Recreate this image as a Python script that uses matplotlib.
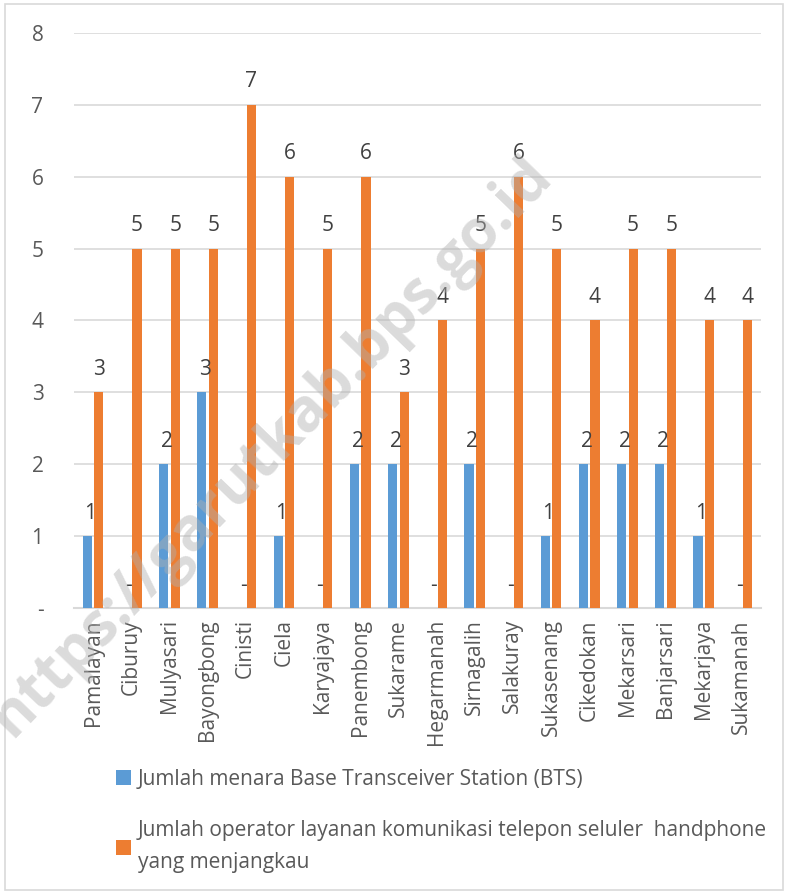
import matplotlib
matplotlib.use('Agg')
from matplotlib import pyplot as plt
from matplotlib.patches import Rectangle
import numpy as np

desa = ['Pamalayan', 'Ciburuy', 'Mulyasari', 'Bayongbong', 'Cinisti', 'Ciela',
        'Karyajaya', 'Panembong', 'Sukarame', 'Hegarmanah', 'Sirnagalih',
        'Salakuray', 'Sukasenang', 'Cikedokan', 'Mekarsari', 'Banjarsari',
        'Mekarjaya', 'Sukamanah']
bts = [1, 0, 2, 3, 0, 1, 0, 2, 2, 0, 2, 0, 1, 2, 2, 2, 1, 0]
operator = [3, 5, 5, 5, 7, 6, 5, 6, 3, 4, 5, 6, 5, 4, 5, 5, 4, 4]
yticks = [0, 1, 2, 3, 4, 5, 6, 7, 8]
ytick_labels = ['-', '1', '2', '3', '4', '5', '6', '7', '8']
label_bts = 'Jumlah menara Base Transceiver Station (BTS)'
label_op = 'Jumlah operator layanan komunikasi telepon seluler  handphone\nyang menjangkau'

blue = '#5B9BD5'
orange = '#ED7D31'
grey_txt = '#595959'

plt.rcParams['font.family'] = ['Open Sans', 'DejaVu Sans']

fig = plt.figure(figsize=(7.88, 8.94), dpi=100)
fig.patches.append(Rectangle((0.006, 0.004), 0.988, 0.992, transform=fig.transFigure,
                             fill=False, edgecolor='#D9D9D9', linewidth=1.2))
ax = fig.add_axes([0.0939, 0.3199, 0.8718, 0.6432])

x = np.arange(len(desa))
w = 0.24
ax.bar(x - w / 2 - 0.03, bts, w, color=blue, label=label_bts, zorder=3)
ax.bar(x + w / 2 + 0.03, operator, w, color=orange, label=label_op, zorder=3)

for i in range(len(desa)):
    t = str(bts[i]) if bts[i] else '-'
    ax.annotate(t, (x[i] - w / 2 + 0.05, bts[i]), xytext=(0, 9), textcoords='offset points',
                ha='center', va='bottom', fontsize=15, color='#404040')
    ax.annotate(str(operator[i]), (x[i] + w / 2 + 0.03, operator[i]), xytext=(0, 9),
                textcoords='offset points', ha='center', va='bottom', fontsize=15, color='#404040')

ax.set_xlim(-0.5, len(desa) - 0.5)
ax.set_ylim(0, 8)
ax.set_yticks(yticks)
ax.set_yticklabels(ytick_labels)
ax.set_xticks(x)
ax.set_xticklabels(desa, rotation=90)
ax.tick_params(axis='both', length=0, labelsize=15, labelcolor=grey_txt)
ax.tick_params(axis='y', pad=22)
ax.tick_params(axis='x', pad=8)
ax.grid(axis='y', color='#D9D9D9', linewidth=1.2, zorder=0)
for s in ['top', 'right', 'left']:
    ax.spines[s].set_visible(False)
ax.spines['bottom'].set_color('#D9D9D9')
ax.spines['bottom'].set_linewidth(1.5)

leg = fig.legend(loc='upper left', bbox_to_anchor=(0.123, 0.161), frameon=False,
                 fontsize=15, labelcolor=grey_txt, handlelength=0.75, handleheight=0.75,
                 handletextpad=0.3, labelspacing=1.45)
for t in leg.get_texts():
    t.set_linespacing(1.7)

# watermark
fig.text(0.345, 0.50, 'https://garutkab.bps.go.id', rotation=46, fontsize=43,
         fontweight='bold', color='#B0B0B0', alpha=0.45, ha='center', va='center')

fig.savefig('out.png', dpi=100)
